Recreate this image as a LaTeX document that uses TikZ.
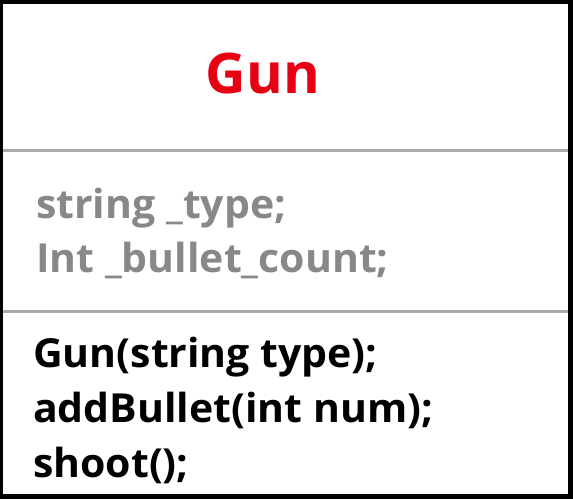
\documentclass[tikz,border=0pt]{standalone}
\usepackage{fontspec}
\setmainfont{Open Sans}
\newfontfamily\umlfont{Open Sans}
\newfontfamily\bodyfont[FakeStretch=1.025]{Open Sans}
\definecolor{titlered}{HTML}{E60012}
\definecolor{attrgray}{HTML}{888888}
\definecolor{rulegray}{HTML}{ABABAB}
\begin{document}
\begin{tikzpicture}[x=1pt,y=-1pt,
  txt/.style={inner sep=0pt, anchor=base west, font=\bodyfont\bfseries\fontsize{40}{48}\selectfont},
  attr/.style={txt, text=attrgray},
  meth/.style={txt, text=black},
  divider/.style={draw=rulegray, line width=3pt}]
\useasboundingbox (0,0) rectangle (573,499);
\fill[black] (0,0) rectangle (573,499);
\fill[white] (3,4) rectangle (568,494);
\node[inner sep=0pt, anchor=base, text=titlered, font=\umlfont\bfseries\fontsize{56}{60}\selectfont] (title) at (263,93) {Gun};
\coordinate (d1l) at (3,150); \coordinate (d1r) at (568,150);
\coordinate (d2l) at (3,311); \coordinate (d2r) at (568,311);
\draw[divider] (d1l) -- (d1r);
\draw[divider] (d2l) -- (d2r);
\node[attr] (a1) at (36,218) {string \_type;};
\node[attr] (a2) at (36,272) {Int \_bullet\_count;};
\node[meth] (m1) at (33,367) {Gun(string type);};
\node[meth] (m2) at (33,422) {addBullet(int num);};
\node[meth] (m3) at (33,477) {shoot();};
\end{tikzpicture}
\end{document}
